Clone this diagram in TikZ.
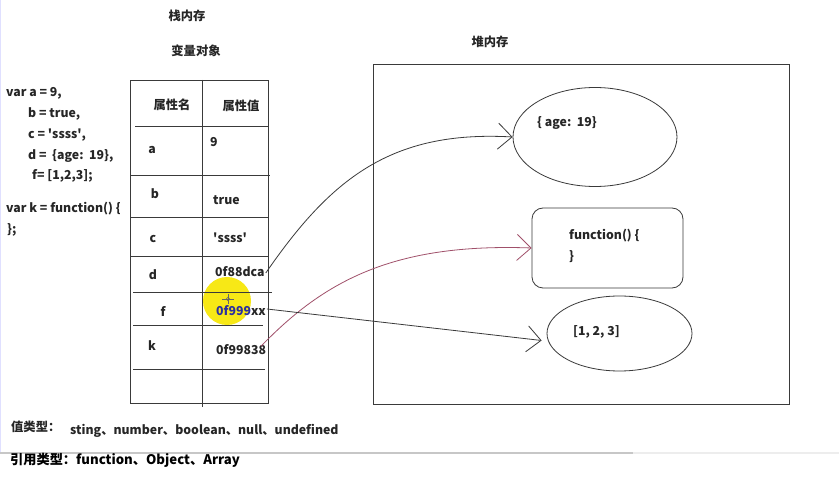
\documentclass[tikz,border=0pt]{standalone}
\usepackage{fontspec}
\setmainfont{Noto Sans CJK SC}
\usetikzlibrary{shapes.geometric,arrows.meta}
\definecolor{linec}{HTML}{3A3A3A}
\definecolor{redc}{HTML}{A0506A}
\definecolor{hl}{HTML}{F7E816}
\definecolor{bluet}{HTML}{2B2FA0}
\newcommand{\sq}{\textquotesingle}
\tikzset{
  txt/.style={font=\fontsize{12.3}{14}\selectfont\bfseries, inner sep=0pt, text=black!85},
  lft/.style={txt, anchor=west},
  frame/.style={draw=linec, line width=0.9pt},
  conn/.style={line width=0.8pt, -{Straight Barb[length=14pt,width=26pt,line width=0.8pt]}},
}
\begin{document}
\begin{tikzpicture}[x=1pt,y=-1pt]
\useasboundingbox (0,0) rectangle (839,478);
\fill[white] (0,0) rectangle (839,478);
% progress bar
\draw[line width=2pt, black!22] (0,453) -- (633,453);
\draw[line width=2pt, black!7] (633,453) -- (839,453);
\draw[line width=1pt, blue!12] (0.5,0) -- (0.5,452);

% titles
\node[txt] (t1) at (187,16) {栈内存};
\node[txt] (t2) at (196,51) {变量对象};
\node[txt] (t3) at (490,42) {堆内存};

% code
\node[lft] (c1) at (6,93) {var a = 9,};
\node[lft] (c2) at (28,114) {b = true,};
\node[lft] (c3) at (28,135) {c = \sq ssss\sq ,};
\node[lft] (c4) at (28,156) {d =\ \ \{age:\ \ 19\},};
\node[lft] (c5) at (32,176) {f= [1,2,3];};
\node[lft] (c6) at (6,209) {var k = function() \{};
\node[lft] (c7) at (7,230) {\};};

% highlight
\fill[hl] (227,301) circle (24);

% table
\draw[frame] (130,80) rectangle (268,403);
\draw[frame] (202,80) -- (202,407);
\draw[frame] (135,126) -- (268,126);
\draw[frame] (130,175) -- (270,175);
\draw[frame] (130,217) -- (268,217);
\draw[frame] (130,256) -- (268,256);
\draw[frame] (133,292) -- (272,292);
\draw[frame] (133,325) -- (263,325);
\draw[frame] (133,369) -- (265,369);
% crosshair
\draw[line width=0.5pt, black!60] (222,299) -- (234,299) (228,294) -- (228,304);
\draw[line width=0.5pt, black!60] (228,299) circle (1.8);

\node[txt] (h1) at (172,105) {属性名};
\node[txt] (h2) at (241,106) {属性值};
\node[txt] (ka) at (152,150) {a};
\node[lft] (va) at (210,142) {9};
\node[txt] (kb) at (155,194) {b};
\node[lft] (vb) at (213,200) {true};
\node[txt] (kc) at (153,239) {c};
\node[lft] (vc) at (213,238) {\sq ssss\sq};
\node[txt] (kd) at (153,275) {d};
\node[lft] (vd) at (215,272) {0f88dca};
\node[txt] (kf) at (163,312) {f};
\node[lft] (vf) at (216,311) {\textcolor{bluet}{0f999}xx};
\node[txt] (kk) at (152,346) {k};
\node[lft] (vk) at (216,350) {0f99838};

% heap
\draw[frame] (373,64) rectangle (789,404);
\node[draw=linec, line width=0.8pt, ellipse, minimum width=164pt, minimum height=99pt, inner sep=0pt] (e1) at (595,137) {};
\node[lft] (e1t) at (537,123) {\{ age:\ \ 19\}};
\node[draw=linec, line width=0.8pt, rounded corners=11pt, minimum width=151pt, minimum height=80pt, inner sep=0pt] (fb) at (607.5,248) {};
\node[lft] (fbt1) at (569,236) {function() \{};
\node[lft] (fbt2) at (569,257) {\}};
\node[draw=linec, line width=0.8pt, ellipse, minimum width=145pt, minimum height=75pt, inner sep=0pt] (e2) at (619.5,333.5) {};
\node[lft] (e2t) at (573,332) {[1, 2, 3]};

% connectors
\draw[conn, linec] ([xshift=1pt,yshift=-1pt]vd.east) .. controls (330,180) and (390,130) .. (e1.west);
\draw[conn, redc] ([xshift=-5pt,yshift=4pt]vk.east) .. controls (325,280) and (395,243) .. (fb.west);
\draw[conn, linec] ([xshift=1pt,yshift=2pt]vf.east) -- ([xshift=-5pt,yshift=-7pt]e2.west);

% bottom
\node[lft] (b1) at (11,427) {值类型：};
\node[lft] (b2) at (70,431) {sting、number、boolean、null、undefined};
\node[lft, text=black, font=\fontsize{13.2}{15}\selectfont\bfseries] (b3) at (10,460) {引用类型：function、Object、Array};
\end{tikzpicture}
\end{document}
